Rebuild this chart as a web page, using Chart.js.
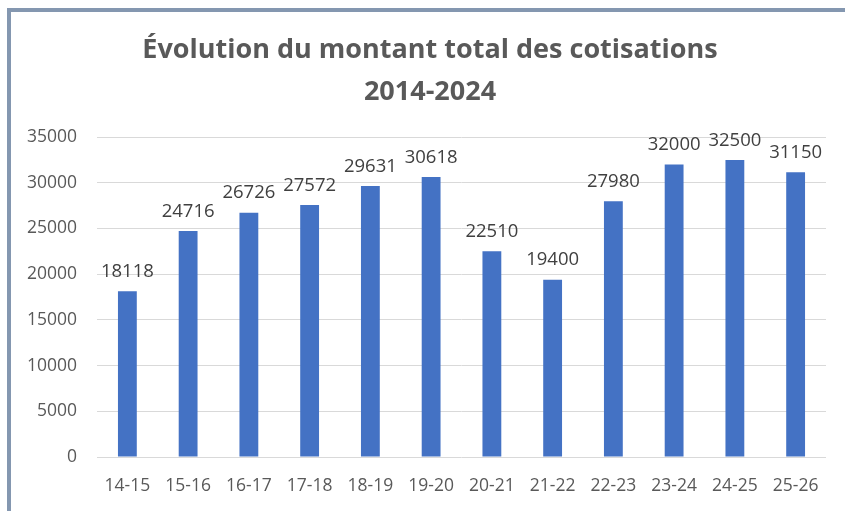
<!DOCTYPE html>
<html>
<head>
<meta charset="utf-8">
<script src="https://cdn.jsdelivr.net/npm/chart.js@4/dist/chart.umd.min.js"></script>
<style>
  html, body { margin: 0; padding: 0; background: #fff; }
  #wrap { position: relative; width: 845px; height: 511px; overflow: hidden; }
  #frame { position: absolute; left: 7px; top: 8px; width: 860px; height: 499px;
           border-left: 4px solid #8497b0; border-top: 4px solid #8497b0;
           border-bottom: 2px solid #a9b8cf; pointer-events: none; box-sizing: content-box; }
  canvas { position: absolute; left: 0; top: 0; }
</style>
</head>
<body>
<div id="wrap">
  <canvas id="c" width="845" height="511"></canvas>
  <div id="frame"></div>
</div>
<script>
const categories = ["14-15","15-16","16-17","17-18","18-19","19-20","20-21","21-22","22-23","23-24","24-25","25-26"];
const cotisations = [18118, 24716, 26726, 27572, 29631, 30618, 22510, 19400, 27980, 32000, 32500, 31150];
const titleLines = ["Évolution du montant total des cotisations", "2014-2024"];

const FONT = "'Open Sans', 'Noto Sans', sans-serif";

const valueLabels = {
  id: 'valueLabels',
  afterDatasetsDraw(chart) {
    const ctx = chart.ctx;
    const meta = chart.getDatasetMeta(0);
    ctx.save();
    ctx.font = "18.5px " + FONT;
    ctx.fillStyle = "#404040";
    ctx.textAlign = "center";
    ctx.textBaseline = "middle";
    meta.data.forEach((bar, i) => {
      ctx.fillText(String(chart.data.datasets[0].data[i]), bar.x, bar.y - 19.5);
    });
    ctx.restore();
  }
};

const titleShift = {
  id: 'titleShift',
  afterLayout(chart) {
    const t = chart.titleBlock;
    if (t) { t.left = 15; t.right = 845; t.width = 830; }
  }
};

new Chart(document.getElementById('c'), {
  type: 'bar',
  data: {
    labels: categories,
    datasets: [{
      data: cotisations,
      backgroundColor: '#4472c4',
      barPercentage: 0.62,
      categoryPercentage: 0.5
    }]
  },
  options: {
    responsive: false,
    animation: false,
    layout: { padding: { left: 0, right: 19, top: 0, bottom: 0 } },
    plugins: {
      legend: { display: false },
      tooltip: { enabled: false },
      title: {
        display: true,
        text: titleLines,
        color: '#595959',
        font: { family: FONT, size: 27, weight: 'bold', lineHeight: 1.556 },
        padding: { top: 29, bottom: 24 }
      }
    },
    scales: {
      x: {
        afterFit(scale) { scale.height = 54; },
        grid: { display: false, drawTicks: false },
        border: { display: false },
        ticks: { color: '#595959', font: { family: FONT, size: 17.5 }, padding: 19, maxRotation: 0 }
      },
      y: {
        min: 0, max: 35000,
        afterFit(scale) { scale.width = 97; },
        grid: { color: '#d9d9d9', lineWidth: 1, drawTicks: false },
        border: { display: false },
        ticks: { stepSize: 5000, color: '#595959', font: { family: FONT, size: 17.5 }, padding: 20,
                 callback: (v) => String(v) }
      }
    }
  },
  plugins: [valueLabels, titleShift]
});
</script>
</body>
</html>
